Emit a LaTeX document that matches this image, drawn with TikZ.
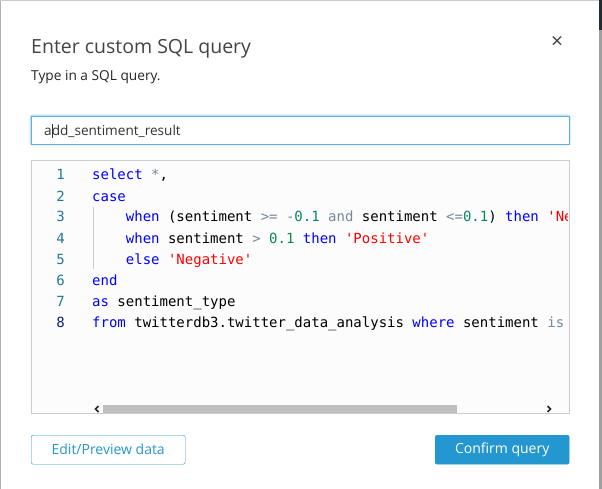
\documentclass[tikz,border=0pt]{standalone}
\usepackage{fontspec}
\setmainfont{Open Sans}
\newfontfamily\codefont{DejaVu Sans Mono}
\usetikzlibrary{positioning}
\definecolor{titlegray}{RGB}{68,68,68}
\definecolor{framegray}{RGB}{204,204,204}
\definecolor{edgegray}{RGB}{176,176,176}
\definecolor{focusblue}{RGB}{96,176,218}
\definecolor{btnblue}{RGB}{36,150,208}
\definecolor{sqlkeyword}{RGB}{0,0,255}
\definecolor{sqlop}{RGB}{119,136,153}
\definecolor{sqlnum}{RGB}{9,134,88}
\definecolor{sqlstring}{RGB}{255,0,0}
\definecolor{linenum}{RGB}{35,120,147}
\definecolor{linenumact}{RGB}{11,33,111}
\definecolor{scrollgray}{RGB}{191,191,191}
\definecolor{stripgray}{RGB}{160,160,160}
\definecolor{stripdark}{RGB}{30,44,54}
\newcommand{\sqlkw}[1]{\textcolor{sqlkeyword}{#1}}
\newcommand{\sqlop}[1]{\textcolor{sqlop}{#1}}
\newcommand{\sqlnum}[1]{\textcolor{sqlnum}{#1}}
\newcommand{\sqlstr}[1]{\textcolor{sqlstring}{#1}}
\tikzset{
    uitext/.style={inner sep=0pt, anchor=base west, text=titlegray},
    codeline/.style={inner sep=0pt, anchor=base west, font=\codefont\fontsize{14}{16}\selectfont},
    linenr/.style={inner sep=0pt, anchor=base east, text=linenum, font=\codefont\fontsize{14}{16}\selectfont},
    field/.style={rectangle, draw=framegray, fill=white, inner sep=0pt, anchor=north west},
    button/.style={rectangle, rounded corners=2pt, inner sep=0pt, anchor=north west, minimum height=29pt, font=\fontsize{14}{16}\selectfont},
    chevron/.style={line width=1.5pt, black!85}
}
\begin{document}
\begin{tikzpicture}[x=1pt, y=-1pt]
        \useasboundingbox (0,0) rectangle (602,489);
        % Dialog background and edges
        \fill[white] (0,0) rectangle (602,489);
        \draw[edgegray] (0.5,0) -- (0.5,489);
        \draw[framegray] (0,0.5) -- (599,0.5);
        \fill[stripgray] (599,0) rectangle (602,489);
        \fill[stripdark] (599,0) rectangle (602,30);

        % Header
        \node[uitext, font=\fontsize{19.5}{24}\selectfont] (title) at (31,53.5) {Enter custom SQL query};
        \node[inner sep=0pt, text=titlegray, font=\fontsize{21}{24}\selectfont] (close) at (557,42) {×};
        \node[uitext, font=\fontsize{13.7}{16}\selectfont, text=black!85] (subtitle) at (31,81) {Type in a SQL query.};

        % Query name field
        \draw[focusblue!35, line width=3pt, rounded corners=2pt] (31,116) rectangle (569,144);
        \node[field, draw=focusblue, minimum width=538pt, minimum height=28pt] (namefield) at (31,116) {};
        \node[uitext, font=\fontsize{13.6}{16}\selectfont, text=black!80] (nametext) at (44,135.5) {a\kern-0.2pt\rule[-2.5pt]{0.7pt}{14pt}\kern-0.5pt dd\_sentiment\_result};

        % Editor
        \node[field, fill=black!1, minimum width=538pt, minimum height=253pt] (editor) at (31,160) {};
        \foreach \n in {1,...,7}
            \node[linenr] (nr\n) at (65,{180+21*(\n-1)}) {\n};
        \node[linenr, text=linenumact] (nr8) at (65,327) {8};
        \draw[framegray] (92.7,207) -- (92.7,269);
        \begin{scope}
            \clip (31,160) rectangle (567.5,413);
            \node[codeline] (code1) at (92,180) {\sqlkw{select} \sqlop{*},};
            \node[codeline] (code2) at (92,201) {\sqlkw{case}};
            \node[codeline] (code3) at (125.7,222) {\sqlkw{when} (sentiment \sqlop{>=} \sqlop{-}\sqlnum{0.1} \sqlop{and} sentiment \sqlop{<=}\sqlnum{0.1}) \sqlkw{then} \sqlstr{'Ne}};
            \node[codeline] (code4) at (125.7,243) {\sqlkw{when} sentiment \sqlop{>} \sqlnum{0.1} \sqlkw{then} \sqlstr{'Positive'}};
            \node[codeline] (code5) at (125.7,264) {\sqlkw{else} \sqlstr{'Negative'}};
            \node[codeline] (code6) at (92,285) {\sqlkw{end}};
            \node[codeline] (code7) at (92,306) {\sqlkw{as} sentiment\_type};
            \node[codeline] (code8) at (92,327) {\sqlkw{from} twitterdb3.twitter\_data\_analysis \sqlkw{where} sentiment \sqlop{is}};
        \end{scope}

        % Horizontal scroll bar
        \fill[scrollgray] (103,405) rectangle (457,413);
        \draw[chevron] (98.5,406) -- (95.5,409) -- (98.5,412);
        \draw[chevron] (547.5,406) -- (550.5,409) -- (547.5,412);

        % Buttons
        \node[button, draw=btnblue, text=btnblue, minimum width=154pt] (preview) at (31,435) {Edit/Preview data};
        \node[button, draw=btnblue, fill=btnblue, text=white, minimum width=134pt] (confirm) at (435,435) {Confirm query};
    \end{tikzpicture}
\end{document}
